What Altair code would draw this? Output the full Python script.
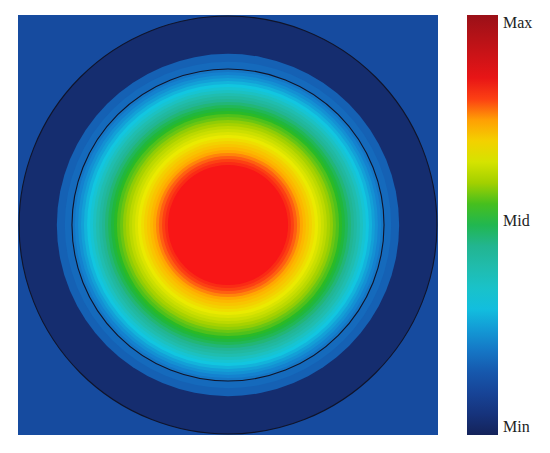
import math
import altair as alt
import pandas as pd

# Colour map of the colour bar (normalised value -> colour)
cmap_stops = [0.0, 0.07, 0.14, 0.22, 0.31, 0.38, 0.45, 0.53, 0.60, 0.67, 0.74, 0.78, 0.82, 1.0]
cmap_colors = ["#14235a", "#173a8a", "#1652a8", "#1482cf", "#12c6e0", "#1fbfb8", "#22b590",
               "#21b82a", "#a2d000", "#eaea00", "#ffb000", "#ff6a10", "#f81616", "#9a1018"]

# Radial profile: outer radius of each disc (fraction of half-width) and field value
ring_radius = [0.995, 0.815, 0.777, 0.743,
               0.729, 0.714, 0.700, 0.686, 0.671, 0.657, 0.643, 0.629, 0.614, 0.600,
               0.586, 0.571, 0.557, 0.543, 0.529, 0.514, 0.500, 0.486, 0.471, 0.457,
               0.443, 0.429, 0.414, 0.400, 0.386, 0.371, 0.357, 0.343, 0.329, 0.314,
               0.300, 0.286]
ring_value = [0.03, 0.165, 0.18, 0.20,
              0.22, 0.24, 0.26, 0.285, 0.31, 0.335, 0.365, 0.395, 0.42, 0.445,
              0.47, 0.495, 0.515, 0.535, 0.555, 0.57, 0.59, 0.605, 0.625, 0.64,
              0.655, 0.67, 0.685, 0.70, 0.715, 0.73, 0.745, 0.765, 0.785, 0.80,
              0.81, 0.82]

background_value = [0.12]
outline_radius = [0.743, 0.995]

legend_values = [0.0, 0.51, 1.0]
legend_labels = ["Min", "Mid", "Max"]

rings = pd.DataFrame({"r": ring_radius, "value": ring_value})
rings["turn"] = 1.0
bg = pd.DataFrame({"x": [-1.0], "x2": [1.0], "y": [-1.0], "y2": [1.0], "value": background_value})
outlines = pd.DataFrame({"r": outline_radius})
outlines["turn"] = 1.0

color_scale = alt.Scale(domain=cmap_stops, range=cmap_colors, interpolate="rgb")
label_expr = ("datum.value >= 1 ? '%s' : datum.value <= 0 ? '%s' : '%s'"
              % (legend_labels[2], legend_labels[0], legend_labels[1]))
legend = alt.Legend(title=None, values=legend_values, labelExpr=label_expr,
                    gradientLength=420, gradientThickness=31, direction="vertical",
                    labelFont="Liberation Serif", labelFontSize=16, labelColor="#222222",
                    labelOffset=5, labelOverlap=False, offset=29, padding=0)

xs = alt.Scale(domain=[-1, 1], nice=False, zero=False)
ys = alt.Scale(domain=[-1, 1], nice=False, zero=False)

background = alt.Chart(bg).mark_rect().encode(
    x=alt.X("x:Q", scale=xs, axis=None),
    x2="x2",
    y=alt.Y("y:Q", scale=ys, axis=None),
    y2="y2",
    color=alt.Color("value:Q", scale=color_scale, legend=legend),
)

rscale = alt.Scale(type="linear", domain=[0, 1], range=[0, 210], zero=True)
tscale = alt.Scale(type="linear", domain=[0, 1], range=[0, math.tau], zero=True)

discs = alt.Chart(rings).mark_arc().encode(
    theta=alt.Theta("turn:Q", scale=tscale, stack=False),
    radius=alt.Radius("r:Q", scale=rscale),
    color=alt.Color("value:Q", scale=color_scale, legend=legend),
)

lines = alt.Chart(outlines).mark_arc(fillOpacity=0, stroke="#10142a", strokeWidth=1.1).encode(
    theta=alt.Theta("turn:Q", scale=tscale, stack=False),
    radius=alt.Radius("r:Q", scale=rscale),
)

chart = alt.layer(background, discs, lines).properties(
    width=420, height=420,
    padding={"left": 8, "top": 5, "right": 5, "bottom": 5},
).configure_view(strokeWidth=0)

chart.save("out.html", embed_options={"renderer": "svg", "actions": False})
